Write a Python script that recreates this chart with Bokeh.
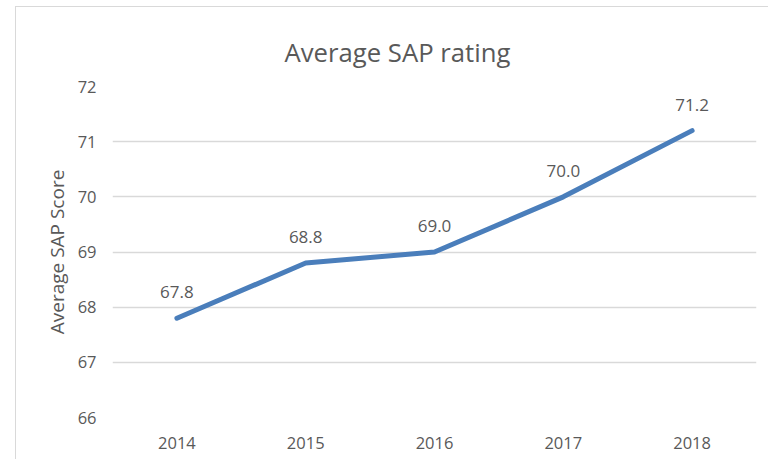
from bokeh.plotting import figure
from bokeh.models import ColumnDataSource, FactorRange, Range1d, FixedTicker
from bokeh.core.properties import value
from bokeh.embed import file_html
from bokeh.resources import INLINE

years = ["2014", "2015", "2016", "2017", "2018"]
sap_scores = [67.8, 68.8, 69.0, 70.0, 71.2]
score_labels = ["67.8", "68.8", "69.0", "70.0", "71.2"]
y_ticks = [66, 67, 68, 69, 70, 71, 72]

TEXT = "#595959"
FONT = "Open Sans"
OX, OY = 16, 7           # figure origin in picture pixels (after border)
W, H = 769 - OX, 460 - OY
FL, FR, FT, FB = 112 - OX, 756 - OX, 86 - OY, 417 - OY  # frame edges in figure pixels

source = ColumnDataSource(dict(year=years, score=sap_scores, label=score_labels))

p = figure(width=W, height=H, x_range=FactorRange(*years), y_range=Range1d(66, 72),
           output_backend="svg", toolbar_location=None,
           min_border_left=FL, min_border_right=W - FR, min_border_top=FT,
           min_border_bottom=H - FB,
           styles={"margin-left": "15px", "margin-top": "6px",
                   "border-left": "1px solid #d9d9d9", "border-top": "1px solid #d9d9d9"})
p.outline_line_color = None
p.background_fill_color = "white"
p.border_fill_color = "white"

p.line(x="year", y="score", source=source, line_color="#4a7ebb", line_width=5,
       line_join="round", line_cap="round")
p.text(x="year", y="score", text="label", source=source, text_align="center",
       text_baseline="middle", y_offset=-26, text_color=TEXT, text_font=value(FONT),
       text_font_size="17px")

p.xgrid.grid_line_color = None
p.ygrid.grid_line_color = "#d9d9d9"
p.ygrid.grid_line_width = 1.5
p.yaxis.ticker = FixedTicker(ticks=y_ticks)

for ax in (p.xaxis[0], p.yaxis[0]):
    ax.axis_line_color = None
    ax.major_tick_line_color = None
    ax.minor_tick_line_color = None
    ax.major_tick_out = 0
    ax.major_tick_in = 0
    ax.major_label_text_color = TEXT
    ax.major_label_text_font = FONT
    ax.major_label_text_font_size = "16.5px"
    ax.major_label_standoff = 16
p.xaxis[0].major_label_standoff = 19

p.yaxis.axis_label = "Average SAP Score"
p.yaxis.axis_label_text_font = FONT
p.yaxis.axis_label_text_font_size = "19px"
p.yaxis.axis_label_text_font_style = "normal"
p.yaxis.axis_label_text_color = TEXT
p.yaxis.axis_label_standoff = 5

p.title.text = "Average SAP rating"
p.title.align = "left"
p.title.text_font = FONT
p.title.text_font_size = "25.7px"
p.title.text_font_style = "normal"
p.title.text_color = TEXT
p.title.offset = 172
p.title.standoff = 33

open("out.html", "w").write(file_html(p, INLINE))
